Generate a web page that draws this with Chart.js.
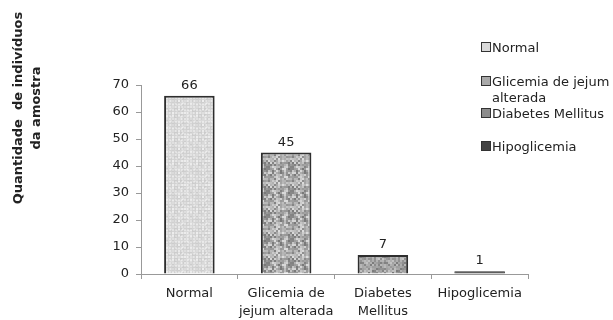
<!DOCTYPE html>
<html>
<head>
<meta charset="utf-8">
<script src="https://cdn.jsdelivr.net/npm/chart.js@4"></script>
<style>
  body { margin: 0; background: #fff; }
  #wrap { position: relative; width: 613px; height: 320px; }
  #legend { position: absolute; left: 481px; top: 0; font: 13px "DejaVu Sans", sans-serif; color: #222; }
  .item { position: absolute; left: 0; white-space: nowrap; line-height: 16px; }
  .sw { display: inline-block; width: 8px; height: 8px; border: 1px solid #333; margin-right: 1px; vertical-align: 0px; }
</style>
</head>
<body>
<div id="wrap">
  <canvas id="c" width="613" height="320"></canvas>
  <div id="legend"></div>
</div>
<script>
const categorias = [['Normal'], ['Glicemia de', 'jejum alterada'], ['Diabetes', 'Mellitus'], ['Hipoglicemia']];
const legendas = [['Normal'], ['Glicemia de jejum', 'alterada'], ['Diabetes Mellitus'], ['Hipoglicemia']];
const quantidades = [66, 45, 7, 1];
const ticksY = [0, 10, 20, 30, 40, 50, 60, 70];

// small deterministic noise for the textured fills
function hash(i, j, s) {
    let h = (i * 374761393 + j * 668265263 + s * 2246822519) | 0;
    h = (h ^ (h >>> 13)) * 1274126177;
    return ((h ^ (h >>> 16)) >>> 0) / 4294967295;
}

function textura(base, spread, grade, seed) {
    const c = document.createElement('canvas');
    c.width = 24; c.height = 24;
    const g = c.getContext('2d');
    const img = g.createImageData(24, 24);
    for (let y = 0; y < 24; y++) {
        for (let x = 0; x < 24; x++) {
            let v = base + (hash(x >> 1, y >> 1, seed) - 0.5) * spread;
            if (grade && (x % 3 === 0 || y % 3 === 0)) v -= 15;
            const k = (y * 24 + x) * 4;
            img.data[k] = img.data[k + 1] = img.data[k + 2] = Math.max(0, Math.min(255, v));
            img.data[k + 3] = 255;
        }
    }
    g.putImageData(img, 0, 0);
    return g.createPattern(c, 'repeat');
}

const cores = [
    textura(228, 20, true, 1),
    textura(170, 100, false, 2),
    textura(160, 80, false, 3),
    '#3a3a3a'
];
const coresLegenda = ['#d9d9d9', '#a9a9a9', '#8c8c8c', '#444'];

const rotulos = {
    id: 'rotulos',
    afterDatasetsDraw(chart) {
        const ctx = chart.ctx;
        ctx.save();
        ctx.font = '13px "DejaVu Sans", sans-serif';
        ctx.fillStyle = '#222';
        ctx.textAlign = 'center';
        ctx.textBaseline = 'alphabetic';
        chart.getDatasetMeta(0).data.forEach((bar, i) => {
            ctx.fillText(quantidades[i], bar.x, bar.y - 7);
        });
        // titulo do eixo y
        ctx.font = 'bold 13px "DejaVu Sans", sans-serif';
        ctx.translate(0, 108);
        ctx.rotate(-Math.PI / 2);
        ctx.textBaseline = 'middle';
        ctx.fillText('Quantidade  de indivíduos', 0, 19);
        ctx.fillText('da amostra', 0, 37);
        ctx.restore();
    }
};

new Chart(document.getElementById('c'), {
    type: 'bar',
    data: {
        labels: categorias,
        datasets: [{
            data: quantidades,
            backgroundColor: cores,
            borderColor: '#2e2e2e',
            borderWidth: [2, 2, 2, 1],
            borderSkipped: 'bottom',
            barPercentage: 0.55,
            categoryPercentage: 0.95
        }]
    },
    options: {
        responsive: false,
        animation: false,
        layout: { padding: { left: 0, right: 85, top: 85, bottom: 0 } },
        plugins: { legend: { display: false }, tooltip: { enabled: false } },
        scales: {
            x: {
                afterFit(s) { s.height = 46; },
                grid: { drawOnChartArea: false, tickLength: 5, color: '#999' },
                border: { color: '#999' },
                ticks: { color: '#222', autoSkip: false, font: { family: 'DejaVu Sans', size: 13, lineHeight: 1.35 }, padding: 6, maxRotation: 0 }
            },
            y: {
                min: 0, max: 70,
                afterFit(s) { s.width = 141; },
                afterBuildTicks(s) { s.ticks = ticksY.map(v => ({ value: v })); },
                grid: { drawOnChartArea: false, tickLength: 5, color: '#999' },
                border: { color: '#999' },
                ticks: { color: '#222', font: { family: 'DejaVu Sans', size: 13 }, padding: 7 }
            }
        }
    },
    plugins: [rotulos]
});

const tops = [40, 74, 106, 139];
const leg = document.getElementById('legend');
legendas.forEach((linhas, i) => {
    const d = document.createElement('div');
    d.className = 'item';
    d.style.top = tops[i] + 'px';
    d.innerHTML = '<span class="sw" style="background:' + coresLegenda[i] + '"></span>' + linhas.join('<br><span style="padding-left:11px"></span>');
    leg.appendChild(d);
});
</script>
</body>
</html>
